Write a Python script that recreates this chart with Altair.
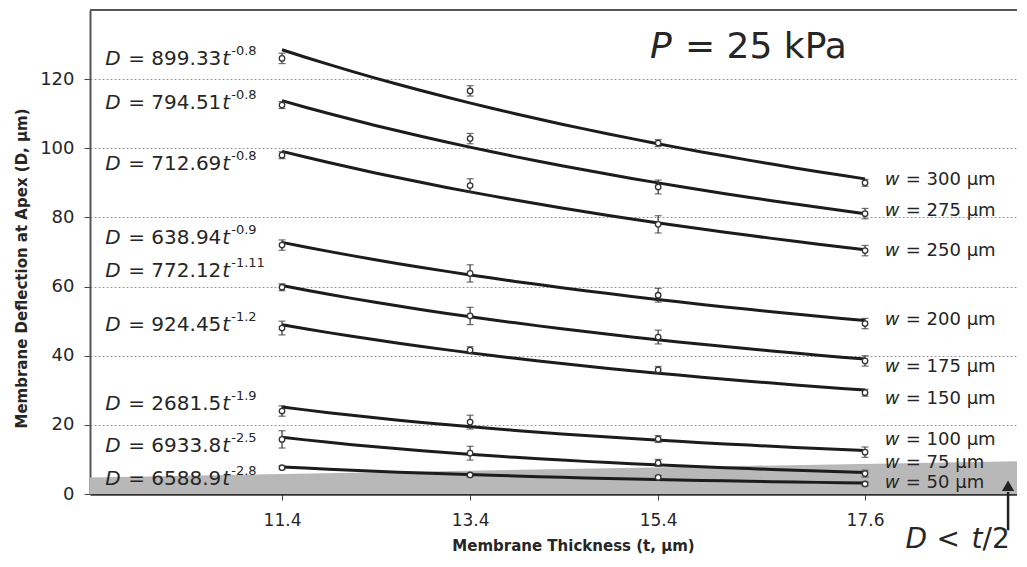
import altair as alt
import pandas as pd

# ---------------- data ----------------
thickness = [11.4, 13.4, 15.4, 17.6]
widths = [300, 275, 250, 200, 175, 150, 100, 75, 50]

d300 = [126.0, 116.6, 101.5, 90.0]
d275 = [112.5, 102.8, 88.8, 81.1]
d250 = [98.0, 89.2, 78.0, 70.4]
d200 = [72.0, 63.8, 57.5, 49.3]
d175 = [59.8, 51.5, 45.4, 38.5]
d150 = [48.0, 41.6, 35.9, 29.3]
d100 = [24.0, 20.8, 15.9, 12.1]
d75 = [15.8, 11.8, 9.0, 5.9]
d50 = [7.6, 5.5, 4.8, 2.9]

e300 = [1.5, 1.5, 1.0, 1.0]
e275 = [1.0, 1.5, 2.0, 1.5]
e250 = [1.0, 2.0, 2.5, 1.5]
e200 = [1.5, 2.5, 2.0, 1.5]
e175 = [1.0, 2.5, 2.0, 1.5]
e150 = [2.0, 1.0, 1.0, 1.0]
e100 = [1.5, 2.0, 1.0, 1.5]
e75 = [2.5, 2.0, 1.0, 1.0]
e50 = [0.5, 0.5, 0.5, 0.5]

eq_coef = ["899.33", "794.51", "712.69", "638.94", "772.12", "924.45", "2681.5", "6933.8", "6588.9"]
eq_exp = ["-0.8", "-0.8", "-0.8", "-0.9", "-1.11", "-1.2", "-1.9", "-2.5", "-2.8"]
eq_y = [125.8, 113.1, 95.5, 74.1, 64.4, 48.9, 26.1, 14.0, 4.2]
w_label_y = [90.7, 81.9, 70.2, 50.4, 36.7, 27.6, 15.6, 8.9, 3.3]

band_t = [9.358, 19.216]
band_D = [4.8, 9.5]

y_ticks = [0, 20, 40, 60, 80, 100, 120]
x_domain = [9.358, 19.216]
y_domain = [0, 140]

arrow_t = [19.121]
arrow_D = [-10.5]
arrow_D2 = [0.6]
arrow_head_D = [2.4]

# ---------------- tables ----------------
series = [d300, d275, d250, d200, d175, d150, d100, d75, d50]
errs = [e300, e275, e250, e200, e175, e150, e100, e75, e50]
rows = []
for w, ds, es in zip(widths, series, errs):
    for t, d, e in zip(thickness, ds, es):
        rows.append({"w": w, "t": t, "D": d, "lo": d - e, "hi": d + e})
pts = pd.DataFrame(rows)

eq_df = pd.DataFrame({"t": 9.52, "D": eq_y,
                      "coef": ["= " + c for c in eq_coef], "exp": eq_exp})
w_df = pd.DataFrame({"t": 17.81, "D": w_label_y,
                     "txt": ["= %d μm" % w for w in widths]})
band_df = pd.DataFrame({"t": band_t, "D": band_D})
arrow_df = pd.DataFrame({"t": arrow_t, "D": arrow_D, "D2": arrow_D2, "Dh": arrow_head_D})
p_df = pd.DataFrame({"t": [15.313], "D": [129.3]})
cond_df = pd.DataFrame({"t": [18.03], "D": [-13.4]})

TXT = "#262626"
FONT = "DejaVu Sans"

xscale = alt.Scale(domain=x_domain, nice=False, zero=False)
yscale = alt.Scale(domain=y_domain, nice=False, zero=False)
xaxis = alt.Axis(values=thickness, title="Membrane Thickness (t, μm)", grid=False,
                 labelFontSize=17, labelColor=TXT, labelPadding=12,
                 tickSize=6, tickColor="#444", tickWidth=1,
                 domainColor="#333", domainWidth=2.5,
                 titleFontSize=15, titleFontWeight="bold", titleColor=TXT,
                 titlePadding=10, titleX=483, format=".1f")
yaxis = alt.Axis(values=y_ticks, title="Membrane Deflection at Apex (D, μm)",
                 grid=True, gridColor="#9a9a9a", gridDash=[2, 2], gridWidth=1,
                 labelFontSize=18, labelColor=TXT, labelPadding=10,
                 tickSize=6, tickColor="#444", tickWidth=1,
                 domainColor="#555", domainWidth=2,
                 titleFontSize=15, titleFontWeight="bold", titleColor=TXT,
                 titlePadding=10, titleY=258)


def X(f="t"):
    return alt.X(f, type="quantitative", scale=xscale, axis=xaxis)


def Y(f="D"):
    return alt.Y(f, type="quantitative", scale=yscale, axis=yaxis)


band = alt.Chart(band_df).mark_area(color="#b8b8b8").encode(
    x=X(), y=Y(), y2=alt.datum(0))

curves = alt.Chart(pts).transform_regression(
    "t", "D", groupby=["w"], method="pow"
).mark_line(color="#1c1c1c", strokeWidth=3).encode(
    x=X(), y=Y(), detail="w:N")

err_rule = alt.Chart(pts).mark_rule(color="#333", strokeWidth=1.2).encode(
    x=X(), y=Y("lo"), y2="hi")
cap_lo = alt.Chart(pts).mark_tick(color="#333", orient="horizontal", size=7,
                                  thickness=1.2).encode(x=X(), y=Y("lo"))
cap_hi = alt.Chart(pts).mark_tick(color="#333", orient="horizontal", size=7,
                                  thickness=1.2).encode(x=X(), y=Y("hi"))
points = alt.Chart(pts).mark_point(shape="circle", filled=True, fill="white",
                                   stroke="#333", strokeWidth=1.3, size=30,
                                   opacity=1).encode(x=X(), y=Y())

tk = dict(font=FONT, color=TXT, align="left", baseline="middle")
eq_D = alt.Chart(eq_df).mark_text(text="D", fontStyle="italic", fontSize=20, **tk).encode(x=X(), y=Y())
eq_c = alt.Chart(eq_df).mark_text(dx=23, fontSize=20, **tk).encode(x=X(), y=Y(), text="coef:N")
eq_t = alt.Chart(eq_df).mark_text(text="t", fontStyle="italic", dx=117, fontSize=20, **tk).encode(x=X(), y=Y())
eq_e = alt.Chart(eq_df).mark_text(dx=126, dy=-8, fontSize=13, **tk).encode(x=X(), y=Y(), text="exp:N")

w_w = alt.Chart(w_df).mark_text(text="w", fontStyle="italic", fontSize=18, **tk).encode(x=X(), y=Y())
w_t = alt.Chart(w_df).mark_text(dx=21, fontSize=18, **tk).encode(x=X(), y=Y(), text="txt:N")

p_P = alt.Chart(p_df).mark_text(text="P", fontStyle="italic", fontSize=36, **tk).encode(x=X(), y=Y())
p_t = alt.Chart(p_df).mark_text(text="= 25 kPa", dx=35, fontSize=36, **tk).encode(x=X(), y=Y())

c1 = alt.Chart(cond_df).mark_text(text="D", fontStyle="italic", fontSize=28, **tk).encode(x=X(), y=Y())
c2 = alt.Chart(cond_df).mark_text(text="<", dx=31, fontSize=28, **tk).encode(x=X(), y=Y())
c3 = alt.Chart(cond_df).mark_text(text="t", fontStyle="italic", dx=66, fontSize=28, **tk).encode(x=X(), y=Y())
c4 = alt.Chart(cond_df).mark_text(text="/2", dx=77, fontSize=28, **tk).encode(x=X(), y=Y())

top_line = alt.Chart(band_df).mark_rule(color="#555", strokeWidth=2).encode(
    x=alt.value(0), x2=alt.value(927), y=alt.value(0))

arrow_line = alt.Chart(arrow_df).mark_rule(color="#222", strokeWidth=2.5).encode(
    x=X(), y=Y(), y2="D2")
arrow_head = alt.Chart(arrow_df).mark_point(shape="triangle-up", filled=True,
                                            color="#222", size=150, opacity=1).encode(
    x=X(), y=Y("Dh"))

chart = alt.layer(
    band, curves, err_rule, cap_lo, cap_hi, points,
    eq_D, eq_c, eq_t, eq_e, w_w, w_t, p_P, p_t, c1, c2, c3, c4,
    top_line, arrow_line, arrow_head
).properties(
    width=927, height=484,
    padding={"left": 82, "top": 2, "right": 0, "bottom": 65},
    autosize=alt.AutoSizeParams(type="none"),
).configure(font=FONT).configure_view(strokeWidth=0)

chart.save("out.html", embed_options={"renderer": "svg", "actions": False})
